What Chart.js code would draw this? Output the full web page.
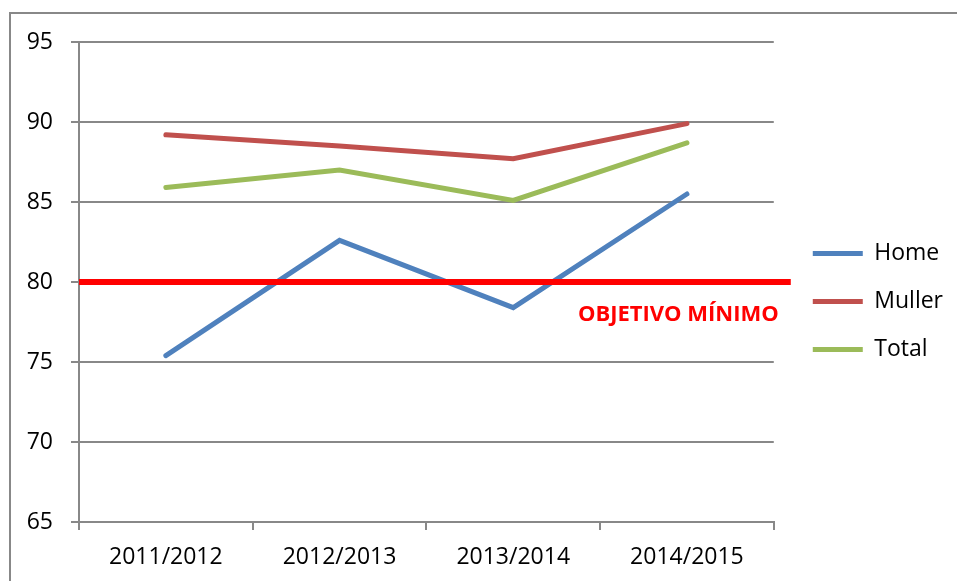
<!DOCTYPE html>
<html>
<head>
<meta charset="utf-8">
<script src="https://cdn.jsdelivr.net/npm/chart.js@4"></script>
<style>
  html, body { margin: 0; padding: 0; background: #fff; }
  #wrap { width: 957px; height: 581px; position: relative; }
</style>
</head>
<body>
<div id="wrap"><canvas id="chart"></canvas></div>
<script>
const categories = ['2011/2012', '2012/2013', '2013/2014', '2014/2015'];
const homeValues = [75.4, 82.6, 78.4, 85.5];
const mullerValues = [89.2, 88.5, 87.7, 89.9];
const totalValues = [85.9, 87.0, 85.1, 88.7];
const objectiveValue = 80;
const objectiveLabel = 'OBJETIVO MÍNIMO';

const gridColor = '#888888';
const font = "'Open Sans', sans-serif";

const objectivePlugin = {
    id: 'objective',
    beforeDraw(chart) {
        const ctx = chart.ctx;
        ctx.save();
        ctx.strokeStyle = gridColor;
        ctx.lineWidth = 2;
        ctx.beginPath();
        ctx.moveTo(10, chart.height);
        ctx.lineTo(10, 13);
        ctx.lineTo(chart.width, 13);
        ctx.stroke();
        ctx.restore();
    },
    afterLayout(chart) {
        // shift legend away from the plot like the original
        chart.legend.left += 14;
        chart.legend.right += 14;
        chart.legend.top -= 10;
        chart.legend.bottom -= 10;
    },
    afterDatasetsDraw(chart) {
        const ctx = chart.ctx;
        const area = chart.chartArea;
        const y = chart.scales.y.getPixelForValue(objectiveValue);
        ctx.save();
        ctx.strokeStyle = '#ff0000';
        ctx.lineWidth = 6;
        ctx.beginPath();
        ctx.moveTo(area.left, y);
        ctx.lineTo(area.right + 17, y);
        ctx.stroke();
        ctx.fillStyle = '#ff0000';
        ctx.font = "bold 22px " + font;
        ctx.textAlign = 'right';
        ctx.textBaseline = 'middle';
        ctx.fillText(objectiveLabel, area.right + 5, y + 33);
        ctx.restore();
    }
};

new Chart(document.getElementById('chart'), {
    type: 'line',
    data: {
        labels: categories,
        datasets: [
            { label: 'Home', data: homeValues, borderColor: '#4f81bd', backgroundColor: '#4f81bd', borderWidth: 5, borderCapStyle: 'round' },
            { label: 'Muller', data: mullerValues, borderColor: '#c0504d', backgroundColor: '#c0504d', borderWidth: 5, borderCapStyle: 'round' },
            { label: 'Total', data: totalValues, borderColor: '#9bbb59', backgroundColor: '#9bbb59', borderWidth: 5, borderCapStyle: 'round' }
        ]
    },
    options: {
        responsive: true,
        maintainAspectRatio: false,
        animation: false,
        layout: { padding: { left: 0, top: 42, right: 18, bottom: 0 } },
        elements: {
            line: { tension: 0, borderJoinStyle: 'miter' },
            point: { radius: 0, hoverRadius: 0 }
        },
        scales: {
            x: {
                offset: true,
                grid: { offset: true, drawOnChartArea: false, drawTicks: true, tickLength: 8, color: gridColor, lineWidth: 2 },
                border: { color: gridColor, width: 2 },
                ticks: { color: '#000', font: { family: font, size: 23 }, padding: 14, maxRotation: 0 },
                afterFit(scale) { scale.height = 59; }
            },
            y: {
                min: 65,
                max: 95,
                ticks: { stepSize: 5, color: '#000', font: { family: font, size: 23 }, padding: 18 },
                grid: { color: gridColor, lineWidth: 2, tickLength: 8 },
                border: { color: gridColor, width: 2 },
                afterFit(scale) { scale.width = 79; }
            }
        },
        plugins: {
            legend: {
                position: 'right',
                labels: {
                    usePointStyle: true,
                    pointStyle: 'line',
                    pointStyleWidth: 50,
                    padding: 25,
                    color: '#000',
                    font: { family: font, size: 23 }
                }
            },
            tooltip: { enabled: false }
        }
    },
    plugins: [objectivePlugin]
});
</script>
</body>
</html>
